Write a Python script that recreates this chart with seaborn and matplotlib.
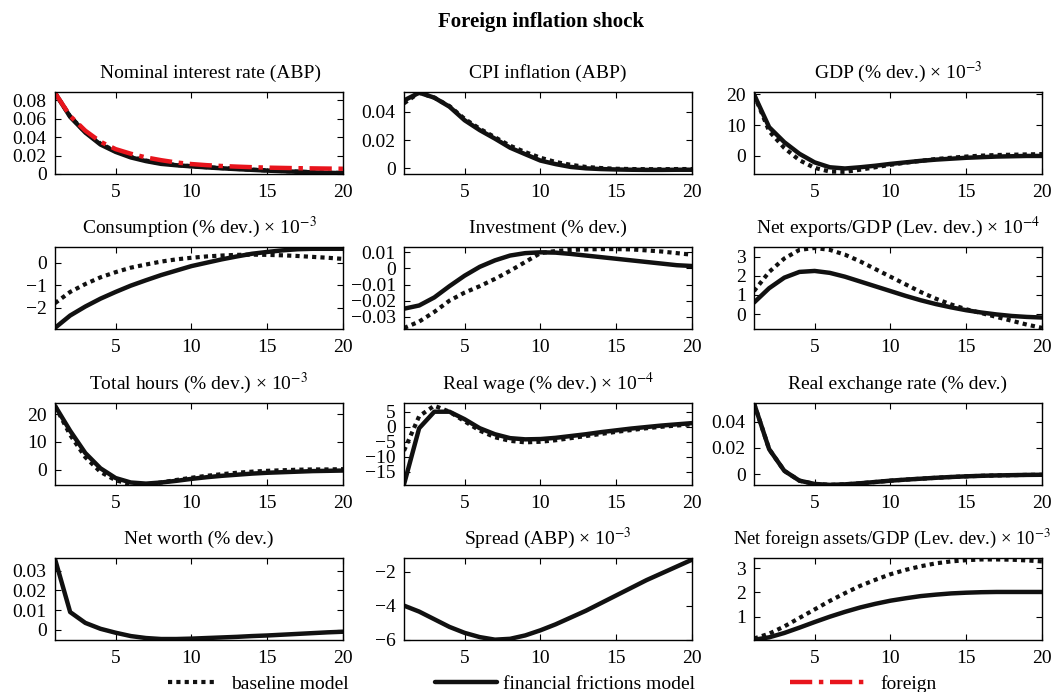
import matplotlib
matplotlib.use("Agg")
import matplotlib.pyplot as plt
import seaborn as sns
import pandas as pd
from matplotlib.ticker import FuncFormatter, FixedLocator
from matplotlib.lines import Line2D

periods = list(range(1, 21))

# Impulse responses to a foreign inflation shock
nominal_rate_base = [0.088, 0.0625, 0.0455, 0.0330, 0.0248, 0.0188, 0.0146, 0.0116, 0.0098, 0.0085,
                     0.0074, 0.0064, 0.0055, 0.0047, 0.0039, 0.0032, 0.0026, 0.0020, 0.0015, 0.0011]
nominal_rate_ff = [0.088, 0.062, 0.045, 0.032, 0.024, 0.018, 0.014, 0.011, 0.0095, 0.0083,
                   0.0072, 0.0062, 0.0053, 0.0045, 0.0037, 0.0030, 0.0024, 0.0018, 0.0013, 0.0009]
nominal_rate_foreign = [0.088, 0.063, 0.047, 0.035, 0.027, 0.022, 0.018, 0.015, 0.0125, 0.0108,
                        0.0096, 0.0087, 0.0080, 0.0074, 0.0069, 0.0066, 0.0063, 0.0061, 0.0059, 0.0057]

cpi_base = [0.046, 0.0535, 0.0500, 0.0440, 0.0350, 0.0280, 0.0220, 0.0160, 0.0115, 0.0075,
            0.0045, 0.0025, 0.0010, 0.0002, -0.0003, -0.0005, -0.0006, -0.0006, -0.0005, -0.0005]
cpi_ff = [0.048, 0.0535, 0.0500, 0.0436, 0.0340, 0.0270, 0.0210, 0.0146, 0.0100, 0.0055,
          0.0030, 0.0010, 0.0000, -0.0005, -0.0008, -0.0010, -0.0011, -0.0011, -0.0010, -0.0010]

gdp_base = [20.0, 8.0, 2.5, -1.5, -4.0, -5.2, -5.3, -4.6, -3.8, -3.0,
            -2.3, -1.7, -1.1, -0.7, -0.3, 0.0, 0.2, 0.3, 0.4, 0.5]
gdp_ff = [20.0, 9.3, 4.4, 0.6, -2.2, -3.8, -4.2, -3.8, -3.3, -2.7,
          -2.2, -1.7, -1.3, -1.0, -0.7, -0.5, -0.3, -0.2, -0.1, -0.1]

cons_base = [-1.8, -1.3, -0.95, -0.65, -0.42, -0.22, -0.08, 0.05, 0.15, 0.22,
             0.28, 0.32, 0.35, 0.36, 0.35, 0.33, 0.30, 0.26, 0.22, 0.17]
cons_ff = [-2.9, -2.35, -1.95, -1.6, -1.3, -1.02, -0.78, -0.55, -0.35, -0.15,
           0.0, 0.15, 0.28, 0.40, 0.48, 0.55, 0.60, 0.62, 0.62, 0.62]

inv_base = [-0.037, -0.033, -0.027, -0.020, -0.015, -0.011, -0.0065, -0.0015, 0.004, 0.0095,
            0.0108, 0.0115, 0.0118, 0.0120, 0.0120, 0.0118, 0.0112, 0.0105, 0.0095, 0.0085]
inv_ff = [-0.025, -0.023, -0.018, -0.011, -0.0045, 0.0010, 0.0050, 0.0080, 0.0095, 0.0100,
          0.0098, 0.0090, 0.0080, 0.0070, 0.0060, 0.0050, 0.0040, 0.0030, 0.0020, 0.0015]

nx_base = [1.2, 2.2, 2.9, 3.35, 3.45, 3.35, 3.1, 2.75, 2.35, 1.95,
           1.55, 1.15, 0.8, 0.5, 0.25, 0.05, -0.15, -0.35, -0.55, -0.72]
nx_ff = [0.6, 1.35, 1.9, 2.2, 2.25, 2.15, 1.95, 1.7, 1.45, 1.2,
         0.95, 0.72, 0.52, 0.35, 0.2, 0.08, -0.02, -0.1, -0.15, -0.18]

hours_base = [23.0, 12.5, 4.5, -0.8, -3.8, -5.2, -5.3, -4.6, -3.7, -2.9,
              -2.2, -1.6, -1.1, -0.7, -0.4, -0.2, 0.0, 0.1, 0.1, 0.2]
hours_ff = [23.0, 14.0, 6.0, 0.5, -3.0, -4.6, -5.0, -4.6, -4.0, -3.3,
            -2.7, -2.2, -1.8, -1.4, -1.1, -0.9, -0.7, -0.5, -0.4, -0.3]

wage_base = [-8.0, 3.5, 7.0, 5.0, 1.8, -1.3, -3.5, -4.7, -5.2, -5.0,
             -4.5, -3.8, -3.1, -2.4, -1.7, -1.1, -0.5, 0.0, 0.4, 0.8]
wage_ff = [-19.2, -0.5, 5.0, 5.0, 2.5, -0.5, -2.5, -3.8, -4.2, -4.1,
           -3.7, -3.1, -2.5, -1.8, -1.2, -0.6, -0.1, 0.4, 0.8, 1.2]

rer_base = [0.054, 0.019, 0.0025, -0.005, -0.0075, -0.0082, -0.0078, -0.0070, -0.0060, -0.0050,
            -0.0042, -0.0035, -0.0028, -0.0022, -0.0017, -0.0013, -0.0010, -0.0008, -0.0006, -0.0005]
rer_ff = [0.054, 0.019, 0.0025, -0.005, -0.0075, -0.0082, -0.0078, -0.0070, -0.0060, -0.0050,
          -0.0042, -0.0035, -0.0028, -0.0022, -0.0017, -0.0013, -0.0010, -0.0008, -0.0006, -0.0005]

networth_ff = [0.036, 0.009, 0.0035, 0.0005, -0.0015, -0.0032, -0.0042, -0.0047, -0.0047, -0.0045,
               -0.0042, -0.0039, -0.0036, -0.0032, -0.0029, -0.0025, -0.0021, -0.0017, -0.0013, -0.0010]

spread_ff = [-4.0, -4.35, -4.8, -5.25, -5.6, -5.85, -6.0, -5.95, -5.75, -5.45,
             -5.1, -4.7, -4.3, -3.85, -3.4, -2.95, -2.5, -2.1, -1.7, -1.3]

nfa_base = [0.1, 0.3, 0.6, 0.95, 1.3, 1.65, 1.97, 2.27, 2.52, 2.75,
            2.93, 3.08, 3.2, 3.28, 3.33, 3.36, 3.36, 3.35, 3.32, 3.28]
nfa_ff = [0.05, 0.15, 0.33, 0.55, 0.78, 1.0, 1.2, 1.38, 1.53, 1.66,
          1.76, 1.85, 1.91, 1.96, 1.99, 2.01, 2.02, 2.02, 2.02, 2.02]

titles = [
    "Nominal interest rate (ABP)", "CPI inflation (ABP)", "GDP (% dev.) \u00d7 10$^{-3}$",
    "Consumption (% dev.) \u00d7 10$^{-3}$", "Investment (% dev.)",
    "Net exports/GDP (Lev. dev.) \u00d7 10$^{-4}$",
    "Total hours (% dev.) \u00d7 10$^{-3}$", "Real wage (% dev.) \u00d7 10$^{-4}$",
    "Real exchange rate (% dev.)",
    "Net worth (% dev.)", "Spread (ABP) \u00d7 10$^{-3}$",
    "Net foreign assets/GDP (Lev. dev.) \u00d7 10$^{-3}$",
]
baseline_series = [nominal_rate_base, cpi_base, gdp_base, cons_base, inv_base, nx_base,
                   hours_base, wage_base, rer_base, None, None, nfa_base]
ff_series = [nominal_rate_ff, cpi_ff, gdp_ff, cons_ff, inv_ff, nx_ff,
             hours_ff, wage_ff, rer_ff, networth_ff, spread_ff, nfa_ff]
foreign_series = [nominal_rate_foreign] + [None] * 11
y_ticks = [
    [0, 0.02, 0.04, 0.06, 0.08], [0, 0.02, 0.04], [0, 10, 20],
    [-2, -1, 0], [-0.03, -0.02, -0.01, 0, 0.01], [0, 1, 2, 3],
    [0, 10, 20], [-15, -10, -5, 0, 5], [0, 0.02, 0.04],
    [0, 0.01, 0.02, 0.03], [-6, -4, -2], [1, 2, 3],
]
y_limits = [
    (0, 0.089), (-0.004, 0.054), (-6, 20.8),
    (-2.95, 0.7), (-0.0376, 0.0133), (-0.78, 3.5),
    (-5.5, 24), (-19.4, 7.9), (-0.0083, 0.0542),
    (-0.0052, 0.0365), (-6.02, -1.2), (0.04, 3.42),
]
x_ticks = [5, 10, 15, 20]

sns.set_theme(style="ticks")
plt.rcParams["font.family"] = ["Liberation Serif", "DejaVu Serif"]
plt.rcParams["mathtext.fontset"] = "stix"
plt.rcParams["axes.linewidth"] = 1.0
plt.rcParams["axes.edgecolor"] = "black"
plt.rcParams["text.color"] = "black"
plt.rcParams["axes.titlecolor"] = "black"

W, H = 1052, 692
fig = plt.figure(figsize=(W / 100, H / 100), dpi=100)

col_left = [55, 404, 754]
row_top = [92, 247, 403, 558]
ax_w, ax_h = 288, 82

base_style = dict(color="#111111", linewidth=3.0, linestyle=(0, (1, 1)))
ff_style = dict(color="#111111", linewidth=3.2, linestyle="-")
foreign_style = dict(color="#e8141c", linewidth=3.2, linestyle=(0, (5, 1.5, 1, 1.5)))


def fmt(v, _pos):
    s = "{:g}".format(round(v, 6))
    return s.replace("-", "\u2212")


for i in range(12):
    r, c = divmod(i, 3)
    left = col_left[c] / W
    bottom = 1 - (row_top[r] + ax_h) / H
    ax = fig.add_axes([left, bottom, ax_w / W, ax_h / H])
    df = pd.DataFrame({"t": periods, "ff": ff_series[i]})
    if baseline_series[i] is not None:
        df["base"] = baseline_series[i]
    if foreign_series[i] is not None:
        df["foreign"] = foreign_series[i]
    sns.lineplot(data=df, x="t", y="ff", ax=ax, **ff_style)
    if "base" in df:
        sns.lineplot(data=df, x="t", y="base", ax=ax, **base_style)
    if "foreign" in df:
        sns.lineplot(data=df, x="t", y="foreign", ax=ax, **foreign_style)
    ax.set_xlim(1, 20)
    ax.set_ylim(*y_limits[i])
    ax.xaxis.set_major_locator(FixedLocator(x_ticks))
    ax.yaxis.set_major_locator(FixedLocator(y_ticks[i]))
    ax.yaxis.set_major_formatter(FuncFormatter(fmt))
    ax.xaxis.set_major_formatter(FuncFormatter(fmt))
    ax.set_xlabel("")
    ax.set_ylabel("")
    ax.tick_params(direction="in", length=4, width=0.8, top=True, right=True,
                   labelsize=14, colors="black")
    ax.tick_params(axis="x", pad=7)
    ax.tick_params(axis="y", pad=6)
    title_size = 13.4 if i == 11 else 14
    title_x = 0.54 if i == 0 else (0.48 if i == 11 else 0.5)
    ax.set_title(titles[i], fontsize=title_size, pad=10, x=title_x, color="black")
    for sp in ax.spines.values():
        sp.set_visible(True)
        sp.set_color("black")

fig.suptitle("Foreign inflation shock", fontsize=15, fontweight="bold",
             x=541 / W, y=1 - 22 / H, va="center", color="black")

legend_entries = [
    ("baseline model", base_style, 168, 2.5, 0.75),
    ("financial frictions model", ff_style, 435, 3.2, 0.3),
    ("foreign", foreign_style, 790, 4.0, 0.65),
]
for label, style, xpix, hl, tp in legend_entries:
    handle = Line2D([], [], **style)
    fig.legend([handle], [label], loc="center left",
               bbox_to_anchor=(xpix / W, 1 - 684 / H), frameon=False,
               fontsize=14, handlelength=hl, handletextpad=tp,
               borderaxespad=0, borderpad=0, labelcolor="black")

fig.savefig("out.png", dpi=100)
